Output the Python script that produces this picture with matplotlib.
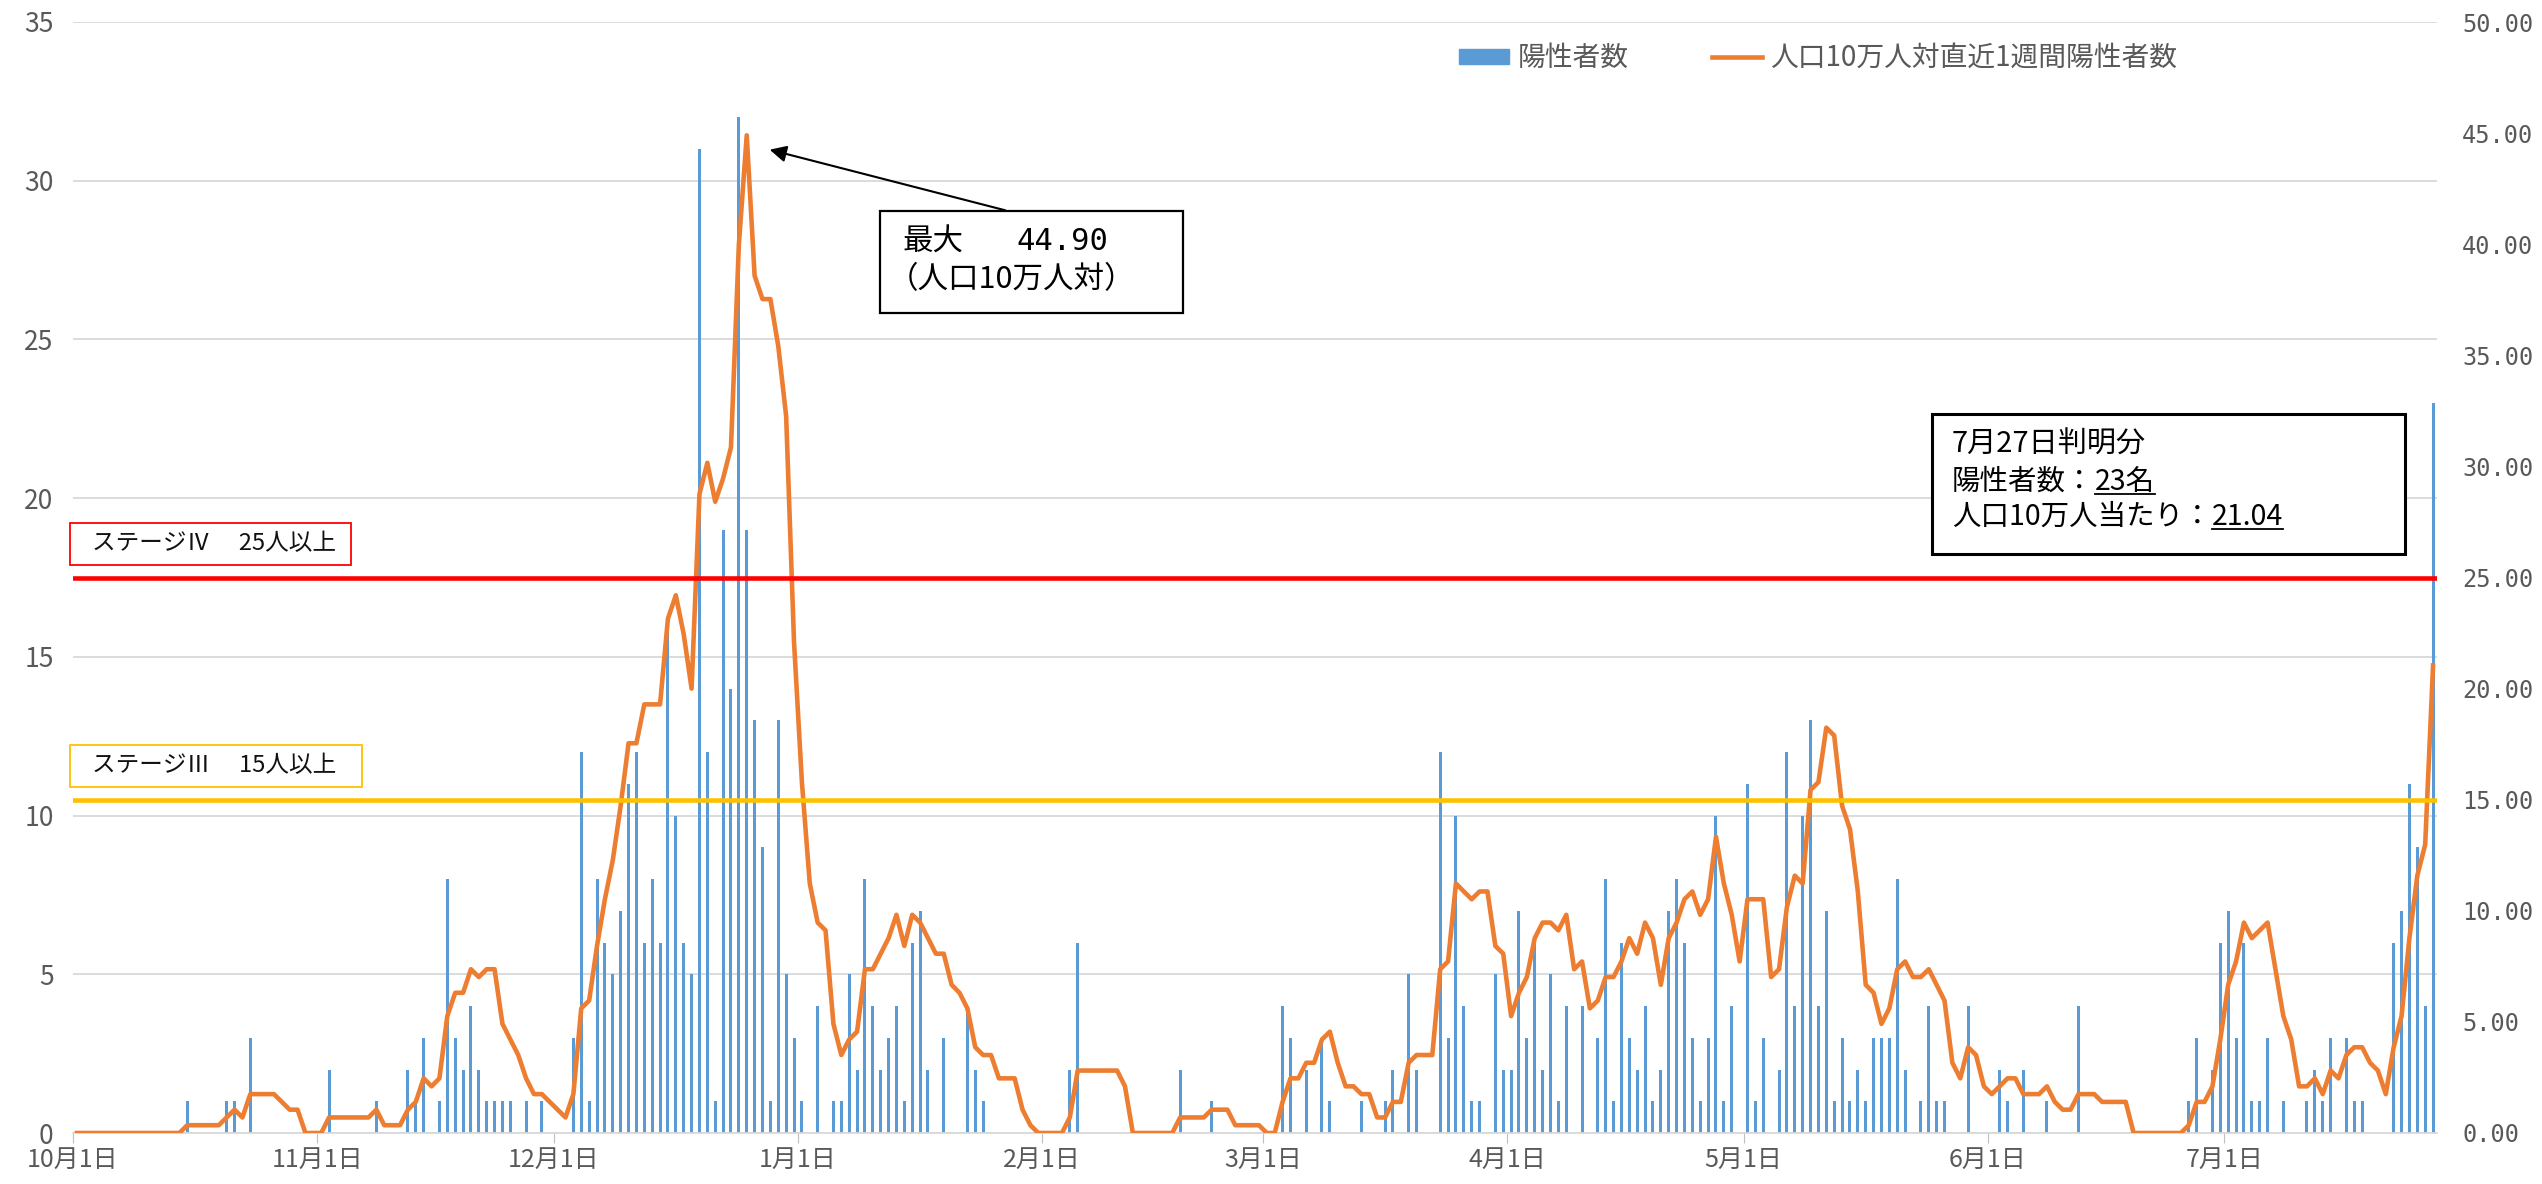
import numpy as np
import pandas as pd
import matplotlib
matplotlib.use("Agg")
import matplotlib.pyplot as plt
from matplotlib.patches import Rectangle, Patch
from matplotlib.lines import Line2D
from matplotlib.ticker import FormatStrFormatter

plt.rcParams['font.family'] = ['Noto Sans CJK JP', 'DejaVu Sans']

# daily dates, 2020-10-01 .. 2021-07-27
dates = pd.date_range('2020-10-01', '2021-07-27', freq='D')

# daily positive cases (陽性者数), one list per month
cases_oct = [0, 0, 0, 0, 0, 0, 0, 0, 0, 0, 0, 0, 0, 0, 1, 0, 0, 0, 0, 1,
             1, 0, 3, 0, 0, 0, 0, 0, 0, 0, 0]
cases_nov = [0, 2, 0, 0, 0, 0, 0, 1, 0, 0, 0, 2, 1, 3, 0, 1, 8, 3, 2, 4,
             2, 1, 1, 1, 1, 0, 1, 0, 1, 0]
cases_dec = [0, 0, 3, 12, 1, 8, 6, 5, 7, 11, 12, 6, 8, 6, 16, 10, 6, 5, 31, 12,
             1, 19, 14, 32, 19, 13, 9, 1, 13, 5, 3]
cases_jan = [1, 0, 4, 0, 1, 1, 5, 2, 8, 4, 2, 3, 4, 1, 6, 7, 2, 0, 3, 0,
             0, 4, 2, 1, 0, 0, 0, 0, 0, 0, 0]
cases_feb = [0, 0, 0, 2, 6, 0, 0, 0, 0, 0, 0, 0, 0, 0, 0, 0, 0, 2, 0, 0,
             0, 1, 0, 0, 0, 0, 0, 0]
cases_mar = [0, 0, 4, 3, 0, 2, 0, 3, 1, 0, 0, 0, 1, 0, 0, 1, 2, 0, 5, 2,
             0, 0, 12, 3, 10, 4, 1, 1, 0, 5, 2]
cases_apr = [2, 7, 3, 6, 2, 5, 1, 4, 0, 4, 0, 3, 8, 1, 6, 3, 2, 4, 1, 2,
             7, 8, 6, 3, 1, 3, 10, 1, 4, 0]
cases_may = [11, 1, 3, 0, 2, 12, 4, 10, 13, 4, 7, 1, 3, 1, 2, 1, 3, 3, 3, 8,
             2, 0, 1, 4, 1, 1, 0, 0, 4, 0, 0]
cases_jun = [0, 2, 1, 0, 2, 0, 0, 1, 0, 0, 0, 4, 0, 0, 0, 0, 0, 0, 0, 0,
             0, 0, 0, 0, 0, 1, 3, 0, 2, 6]
cases_jul = [7, 3, 6, 1, 1, 3, 0, 1, 0, 0, 1, 2, 1, 3, 0, 3, 1, 1, 0, 0,
             0, 6, 7, 11, 9, 4, 23]

# weekly positives per 100k (人口10万人対直近1週間陽性者数)
rate_oct = [0, 0, 0, 0, 0, 0, 0, 0, 0, 0, 0, 0, 0, 0, 0.35, 0.35, 0.35, 0.35, 0.35, 0.70,
            1.05, 0.70, 1.75, 1.75, 1.75, 1.75, 1.40, 1.05, 1.05, 0, 0]
rate_nov = [0, 0.70, 0.70, 0.70, 0.70, 0.70, 0.70, 1.05, 0.35, 0.35, 0.35, 1.05, 1.40, 2.46, 2.10,
            2.46, 5.26, 6.31, 6.31, 7.37, 7.02, 7.37, 7.37, 4.91, 4.21, 3.51, 2.46, 1.75, 1.75, 1.40]
rate_dec = [1.05, 0.70, 1.75, 5.61, 5.96, 8.42, 10.52, 12.28, 14.73, 17.54, 17.54, 19.29, 19.29,
            19.29, 23.15, 24.20, 22.45, 20.00, 28.76, 30.16, 28.41, 29.46, 30.86, 39.98, 44.90,
            38.58, 37.53, 37.53, 35.42, 32.27, 22.10]
rate_jan = [15.79, 11.23, 9.47, 9.12, 4.91, 3.51, 4.21, 4.56, 7.37, 7.37, 8.07, 8.77, 9.82, 8.42,
            9.82, 9.47, 8.77, 8.07, 8.07, 6.67, 6.31, 5.61, 3.86, 3.51, 3.51, 2.46, 2.46, 2.46,
            1.05, 0.35, 0]
rate_feb = [0, 0, 0, 0.70, 2.81, 2.81, 2.81, 2.81, 2.81, 2.81, 2.10, 0, 0, 0, 0, 0, 0, 0.70,
            0.70, 0.70, 0.70, 1.05, 1.05, 1.05, 0.35, 0.35, 0.35, 0.35]
rate_mar = [0, 0, 1.40, 2.46, 2.46, 3.16, 3.16, 4.21, 4.56, 3.16, 2.10, 2.10, 1.75, 1.75, 0.70,
            0.70, 1.40, 1.40, 3.16, 3.51, 3.51, 3.51, 7.37, 7.72, 11.23, 10.87, 10.52, 10.87,
            10.87, 8.42, 8.07]
rate_apr = [5.26, 6.31, 7.02, 8.77, 9.47, 9.47, 9.12, 9.82, 7.37, 7.72, 5.61, 5.96, 7.02, 7.02,
            7.72, 8.77, 8.07, 9.47, 8.77, 6.67, 8.77, 9.47, 10.52, 10.87, 9.82, 10.52, 13.33,
            11.23, 9.82, 7.72]
rate_may = [10.52, 10.52, 10.52, 7.02, 7.37, 10.17, 11.58, 11.23, 15.44, 15.79, 18.24, 17.89,
            14.73, 13.68, 10.87, 6.67, 6.31, 4.91, 5.61, 7.37, 7.72, 7.02, 7.02, 7.37, 6.67,
            5.96, 3.16, 2.46, 3.86, 3.51, 2.10]
rate_jun = [1.75, 2.10, 2.46, 2.46, 1.75, 1.75, 1.75, 2.10, 1.40, 1.05, 1.05, 1.75, 1.75, 1.75,
            1.40, 1.40, 1.40, 1.40, 0, 0, 0, 0, 0, 0, 0, 0.35, 1.40, 1.40, 2.10, 4.21]
rate_jul = [6.67, 7.72, 9.47, 8.77, 9.12, 9.47, 7.37, 5.26, 4.21, 2.10, 2.10, 2.46, 1.75, 2.81,
            2.46, 3.51, 3.86, 3.86, 3.16, 2.81, 1.75, 3.86, 5.26, 8.77, 11.58, 12.98, 21.04]

cases = (cases_oct + cases_nov + cases_dec + cases_jan + cases_feb + cases_mar
         + cases_apr + cases_may + cases_jun + cases_jul)
rate = (rate_oct + rate_nov + rate_dec + rate_jan + rate_feb + rate_mar
        + rate_apr + rate_may + rate_jun + rate_jul)

month_starts = pd.date_range('2020-10-01', '2021-07-01', freq='MS')
month_labels = [f"{d.month}月1日" for d in month_starts]

W, H = 2542, 1184


def fx(px):
    return px / W


def fy(py):
    return 1 - py / H


fig = plt.figure(figsize=(W / 100, H / 100), dpi=100)
ax = fig.add_axes([fx(73), fy(1133), fx(2437) - fx(73), fy(22) - fy(1133)])

xc = dates + pd.Timedelta(hours=12)
ax.bar(xc, cases, width=0.38, color='#5B9BD5', zorder=2)
ax.set_xlim(dates[0], dates[-1] + pd.Timedelta(days=1))
ax.set_ylim(0, 35)
ax.set_yticks(range(0, 36, 5))
ax.grid(axis='y', color='#D9D9D9', lw=1.3)
ax.set_axisbelow(True)
for s in ['top', 'right', 'left']:
    ax.spines[s].set_visible(False)
ax.spines['bottom'].set_color('#D9D9D9')
ax.spines['bottom'].set_linewidth(1.3)
ax.set_xticks(month_starts)
ax.set_xticklabels(month_labels)
ax.tick_params(axis='x', length=7, color='#BFBFBF', labelsize=18, labelcolor='#595959', pad=3)
ax.tick_params(axis='y', length=0, labelsize=19, labelcolor='#595959', pad=14)

ax2 = ax.twinx()
ax2.plot(xc, rate, color='#ED7D31', lw=3.3, solid_joinstyle='round', zorder=3)
ax2.set_ylim(0, 50)
ax2.set_yticks(np.arange(0, 51, 5))
ax2.yaxis.set_major_formatter(FormatStrFormatter('%.2f'))
ax2.tick_params(axis='y', length=0, labelsize=17, labelcolor='#595959', pad=18)
for lab in ax2.get_yticklabels():
    lab.set_family('DejaVu Sans Mono')
for s in ax2.spines.values():
    s.set_visible(False)

# stage thresholds
ax2.axhline(25, color='#FF0000', lw=3.3, zorder=4, solid_capstyle='round')
ax2.axhline(15, color='#FFC000', lw=3.3, zorder=4, solid_capstyle='round')

# stage labels
fig.patches.append(Rectangle((fx(70), fy(565)), fx(351) - fx(70), fy(523) - fy(565),
                             transform=fig.transFigure, facecolor='white',
                             edgecolor='#FF0000', lw=1.3, zorder=5))
fig.text(fx(92), fy(544), "ステージⅣ　 25人以上", fontsize=17, va='center',
         color='#111111', zorder=6)
fig.patches.append(Rectangle((fx(70), fy(787)), fx(362) - fx(70), fy(745) - fy(787),
                             transform=fig.transFigure, facecolor='white',
                             edgecolor='#FFC000', lw=1.3, zorder=5))
fig.text(fx(92), fy(766), "ステージⅢ　 15人以上", fontsize=17, va='center',
         color='#111111', zorder=6)

# max annotation
fig.patches.append(Rectangle((fx(880), fy(313)), fx(1183) - fx(880), fy(211) - fy(313),
                             transform=fig.transFigure, facecolor='white',
                             edgecolor='black', lw=1.6, zorder=5))
fig.text(fx(903), fy(242), "最大", fontsize=22, va='center', zorder=6)
fig.text(fx(1016), fy(242), "44.90", fontsize=22, va='center', zorder=6,
         family='DejaVu Sans Mono')
fig.text(fx(888), fy(280), "（人口10万人対）", fontsize=22, va='center', zorder=6)
ax.annotate('', xy=(fx(767), fy(149)), xytext=(fx(1008), fy(211)),
            xycoords='figure fraction', textcoords='figure fraction',
            arrowprops=dict(arrowstyle='-|>', color='black', lw=1.5, mutation_scale=25))

# latest day box
fig.patches.append(Rectangle((fx(1932), fy(554)), fx(2405) - fx(1932), fy(414) - fy(554),
                             transform=fig.transFigure, facecolor='white',
                             edgecolor='black', lw=2.2, zorder=5))
fig.text(fx(1952), fy(445), "7月27日判明分", fontsize=21, va='center', zorder=6)
t1 = fig.text(fx(1952), fy(482), "陽性者数：", fontsize=20.5, va='center', zorder=6)
t2 = fig.text(fx(1952), fy(517), "人口10万人当たり：", fontsize=20.5, va='center', zorder=6)
fig.canvas.draw()
r = fig.canvas.get_renderer()
for t, s, ypx in [(t1, "23名", 482), (t2, "21.04", 517)]:
    bb = t.get_window_extent(r)
    u = fig.text(bb.x1 / W, fy(ypx), s, fontsize=20.5, va='center', zorder=6)
    ub = u.get_window_extent(r)
    fig.add_artist(Line2D([ub.x0 / W, ub.x1 / W], [fy(ypx + 12), fy(ypx + 12)],
                          color='black', lw=1.3, transform=fig.transFigure, zorder=7))

# legend
handles = [Patch(color='#5B9BD5'), Line2D([], [], color='#ED7D31', lw=3.3)]
leg = fig.legend(handles, ["陽性者数", "人口10万人対直近1週間陽性者数"], loc='center',
                 bbox_to_anchor=(fx(1818), fy(58)), ncol=2, frameon=False, fontsize=20,
                 handlelength=1.8, handleheight=0.45, handletextpad=0.3, columnspacing=3)
for tx in leg.get_texts():
    tx.set_color('#595959')

fig.savefig('out.png', dpi=100)
